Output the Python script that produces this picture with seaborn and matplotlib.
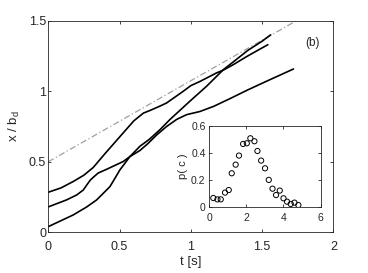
import numpy as np
import pandas as pd
import matplotlib
matplotlib.use('Agg')
import matplotlib.pyplot as plt
import seaborn as sns
from matplotlib.ticker import FormatStrFormatter

# Trajectories x/b_d against t [s]
t1 = [0, 0.09, 0.175, 0.25, 0.316, 0.4, 0.5, 0.6, 0.667, 0.714, 0.784, 0.83, 0.947, 1.0, 1.065, 1.18, 1.228, 1.3, 1.39, 1.46, 1.54]
x1 = [0.284, 0.315, 0.36, 0.405, 0.46, 0.56, 0.675, 0.79, 0.845, 0.864, 0.895, 0.917, 1.0, 1.04, 1.07, 1.13, 1.15, 1.19, 1.245, 1.285, 1.33]

t2 = [0, 0.129, 0.2, 0.246, 0.27, 0.295, 0.316, 0.35, 0.41, 0.526, 0.573, 0.643, 0.7, 0.76, 0.83, 0.9, 0.97, 1.065, 1.16, 1.275, 1.4, 1.55, 1.72]
x2 = [0.18, 0.23, 0.265, 0.30, 0.335, 0.37, 0.39, 0.42, 0.447, 0.502, 0.537, 0.58, 0.63, 0.69, 0.75, 0.8, 0.834, 0.857, 0.893, 0.948, 1.01, 1.08, 1.158]

t3 = [0, 0.175, 0.27, 0.34, 0.433, 0.503, 0.573, 0.643, 0.71, 0.784, 0.854, 0.994, 1.11, 1.205, 1.228, 1.3, 1.4, 1.5, 1.56]
x3 = [0.04, 0.123, 0.18, 0.23, 0.324, 0.443, 0.537, 0.61, 0.66, 0.728, 0.8, 0.93, 1.035, 1.13, 1.153, 1.21, 1.29, 1.355, 1.40]

# Reference line
t_ref = [0, 1.74]
x_ref = [0.5, 1.5]

# Inset distribution p(c)
c_vals = [0.23, 0.45, 0.63, 0.86, 1.06, 1.22, 1.43, 1.61, 1.83, 2.03, 2.22, 2.44, 2.6, 2.8, 3.01, 3.21, 3.41, 3.6, 3.8, 4.0, 4.19, 4.39, 4.59, 4.8]
p_vals = [0.064, 0.054, 0.054, 0.104, 0.123, 0.247, 0.311, 0.378, 0.464, 0.469, 0.506, 0.484, 0.412, 0.341, 0.284, 0.198, 0.133, 0.086, 0.119, 0.062, 0.037, 0.02, 0.03, 0.012]

main_xticks = [0, 0.5, 1, 1.5, 2]
main_yticks = [0, 0.5, 1, 1.5]
inset_xticks = [0, 2, 4, 6]
inset_yticks = [0, 0.2, 0.4, 0.6]

sns.set_style('ticks')
plt.rcParams['font.family'] = ['Liberation Sans', 'DejaVu Sans']
plt.rcParams['xtick.direction'] = 'in'
plt.rcParams['ytick.direction'] = 'in'
plt.rcParams['xtick.top'] = True
plt.rcParams['ytick.right'] = True
plt.rcParams['axes.edgecolor'] = '#262626'
plt.rcParams['xtick.color'] = '#262626'
plt.rcParams['ytick.color'] = '#262626'

fig = plt.figure(figsize=(3.68, 2.73), dpi=100)
ax = fig.add_axes([0.131, 0.149, 0.775, 0.775])

df_ref = pd.DataFrame({'t': t_ref, 'x': x_ref})
sns.lineplot(data=df_ref, x='t', y='x', ax=ax, color='#a0a0a0', lw=0.9,
             linestyle=(0, (5, 2, 1, 2)))

for tt, xx in [(t1, x1), (t2, x2), (t3, x3)]:
    df = pd.DataFrame({'t': tt, 'x': xx})
    sns.lineplot(data=df, x='t', y='x', ax=ax, color='black', lw=1.2, sort=False)

ax.set_xlim(0, 2)
ax.set_ylim(0, 1.5)
ax.set_xticks(main_xticks)
ax.set_yticks(main_yticks)
ax.xaxis.set_major_formatter(FormatStrFormatter('%g'))
ax.yaxis.set_major_formatter(FormatStrFormatter('%g'))
ax.tick_params(labelsize=9, length=2.5, width=0.6)
ax.tick_params(axis='x', pad=6)
ax.tick_params(axis='y', pad=1.5)
for s in ax.spines.values():
    s.set_linewidth(0.6)
ax.set_xlabel('t [s]', fontsize=9.5, labelpad=2.5)
ax.set_ylabel('x / b$_\\mathregular{d}$', fontsize=9.5, labelpad=5)
ax.text(1.855, 1.343, '(b)', fontsize=8.5, ha='center', va='center')

# Inset
axi = fig.add_axes([0.568, 0.243, 0.3035, 0.297])
df_p = pd.DataFrame({'c': c_vals, 'p': p_vals})
sns.scatterplot(data=df_p, x='c', y='p', ax=axi, marker='o', s=14,
                facecolor='none', edgecolor='black', linewidth=0.7)
axi.set_xlim(0, 6)
axi.set_ylim(0, 0.6)
axi.set_xticks(inset_xticks)
axi.set_yticks(inset_yticks)
axi.xaxis.set_major_formatter(FormatStrFormatter('%g'))
axi.yaxis.set_major_formatter(FormatStrFormatter('%g'))
axi.tick_params(labelsize=7.5, length=2, width=0.6)
axi.tick_params(axis='x', pad=4.5)
axi.tick_params(axis='y', pad=2.5)
for s in axi.spines.values():
    s.set_linewidth(0.6)
axi.set_xlabel('')
axi.set_ylabel('p( c )', fontsize=8, labelpad=2)

fig.savefig('out.png', dpi=100)
